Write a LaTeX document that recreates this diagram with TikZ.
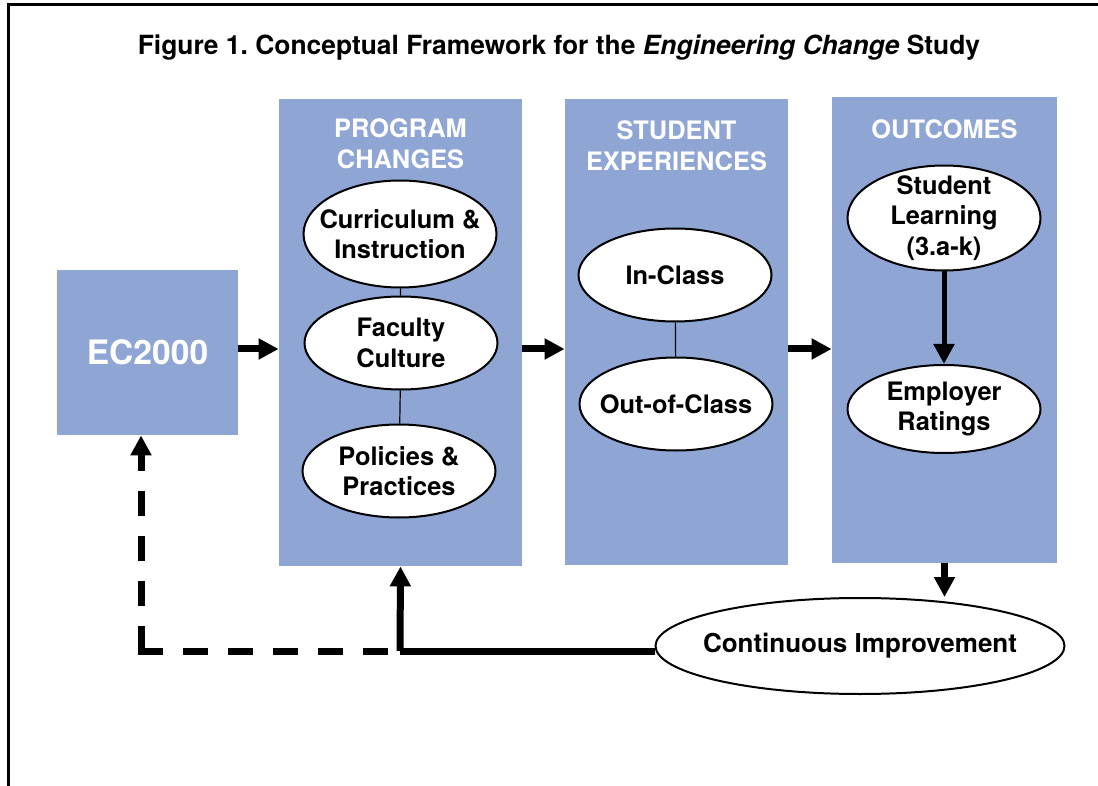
\documentclass[tikz,border=0pt]{standalone}
\usepackage{fontspec}
\setmainfont{TeX Gyre Heros}
\usetikzlibrary{arrows.meta,positioning,shapes.geometric}
\definecolor{panelblue}{RGB}{143,166,213}
\newlength{\ovalwidth}
\setlength{\ovalwidth}{96.5pt}
\newcommand{\figfont}{\fontsize{12.7}{15.2}\selectfont\bfseries}
\frenchspacing

\tikzset{
    panel/.style={fill=panelblue, inner sep=0pt},
    head/.style={text=white, font=\figfont, align=center, inner sep=0pt},
    oval/.style={ellipse, draw, fill=white, line width=1pt, minimum width=\ovalwidth,
        minimum height=46.5pt, inner sep=-10pt, align=center, font=\figfont},
    flow/.style={line width=3.5pt, -{Triangle[length=10pt,width=10pt]}},
    link/.style={line width=0.6pt},
    feedback/.style={line width=3.5pt, dash pattern=on 12.5pt off 10pt},
}

\begin{document}
\begin{tikzpicture}[x=0.5pt,y=-0.5pt]
    \useasboundingbox (0,0) rectangle (1098,786);
    \draw[line width=1.5pt] (8.5,786) -- (8.5,4.5) -- (1098,4.5);
    \node[anchor=base, font=\fontsize{13.2}{16}\selectfont\bfseries] (title) at (559,55)
        {Figure 1. Conceptual Framework for the \textit{Engineering Change} Study};

    \node[panel, minimum width=90.5pt, minimum height=82.5pt, text=white,
        font=\fontsize{16.8}{20}\selectfont\bfseries] (ec) at (147.5,352.5) {EC2000};
    \node[panel, minimum width=121.5pt, minimum height=233.5pt] (prog) at (400.5,332.5) {};
    \node[panel, minimum width=111.5pt, minimum height=233pt] (stud) at (676.5,332) {};
    \node[panel, minimum width=112.5pt, minimum height=233pt] (outc) at (944.5,330) {};

    \node[head, below=10pt of prog.north] (proghead) {PROGRAM\\CHANGES};
    \node[head, below=11pt of stud.north] (studhead) {STUDENT\\EXPERIENCES};
    \node[head, below=11.5pt of outc.north] (outchead) {OUTCOMES};

    \node[oval, minimum height=53.5pt] (cur) at (400,234) {Curriculum \&\\Instruction};
    \node[oval] (fac) at (401,343) {Faculty\\Culture};
    \node[oval] (pol) at (399,471) {Policies \&\\Practices};
    \node[oval] (incl) at (675,275) {In-Class};
    \node[oval] (outcl) at (676,404) {Out-of-Class};
    \node[oval, minimum height=52.5pt] (learn) at (944,218) {Student\\Learning\\(3.a-k)};
    \node[oval, minimum height=44pt] (empl) at (944,409) {Employer\\Ratings};
    \node[oval, minimum width=204.5pt, minimum height=48pt,
        font=\fontsize{13}{15.2}\selectfont\bfseries] (ci) at (860,646) {Continuous Improvement};

    \draw[link] (cur) -- (fac);
    \draw[link] (fac) -- (pol);
    \draw[link] (incl) -- (outcl);

    \coordinate (level) at (0,349);
    \draw[flow] (level -| ec.east) -- (level -| prog.west);
    \draw[flow] (level -| prog.east) -- (level -| stud.west);
    \draw[flow] (level -| stud.east) -- (level -| outc.west);
    \draw[flow, line width=2.5pt] (learn) -- (empl);
    \draw[flow] (outc.south) -- (outc.south |- ci.north);

    \coordinate (turn) at (400,651);
    \coordinate (corner) at (141,651);
    \draw[line width=3.5pt] (ci.west |- turn) -- (turn);
    \draw[flow] (turn) -- (prog.south);
    \draw[feedback] ([xshift=-1.75pt]corner) -- (turn);
    \draw[feedback, -{Triangle[length=10pt,width=10pt]}] (corner) -- (ec.south -| corner);
\end{tikzpicture}
\end{document}
